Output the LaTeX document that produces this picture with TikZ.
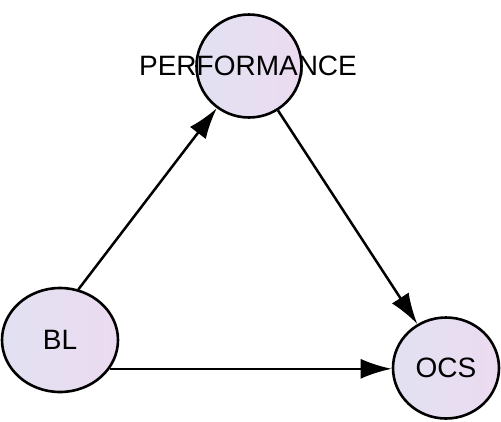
\documentclass[tikz,border=0pt]{standalone}
\usepackage{fontspec}
\setmainfont{Liberation Sans}
\usetikzlibrary{arrows.meta,shapes.geometric}
\definecolor{fillL}{HTML}{E1E1F2}
\definecolor{fillR}{HTML}{ECDBF0}
\begin{document}
\begin{tikzpicture}[x=1pt,y=-1pt,
  bubble/.style={ellipse,draw=black,line width=2.6pt,left color=fillL,right color=fillR,inner sep=0pt},
  lbl/.style={font=\fontsize{28}{30}\selectfont,text=black,inner sep=0pt},
  conn/.style={line width=2.5pt,-{Latex[length=31pt,width=20pt]}}]
\useasboundingbox (0,0) rectangle (501,421);
\node[bubble,minimum width=105pt,minimum height=103pt] (perf) at (249,66) {};
\node[bubble,minimum width=116pt,minimum height=104pt] (bl) at (60,340) {};
\node[bubble,minimum width=106pt,minimum height=101pt] (ocs) at (446,368) {};
\node[lbl] (tperf) at (248,66) {PERFORMANCE};
\node[lbl] (tbl) at (60,340) {BL};
\node[lbl] (tocs) at (446,368) {OCS};
\draw[conn] (bl.70) -- (perf);
\draw[conn] (perf) -- (ocs);
\draw[conn] (bl.-30) -- (bl.-30 -| ocs.west);
\end{tikzpicture}
\end{document}
